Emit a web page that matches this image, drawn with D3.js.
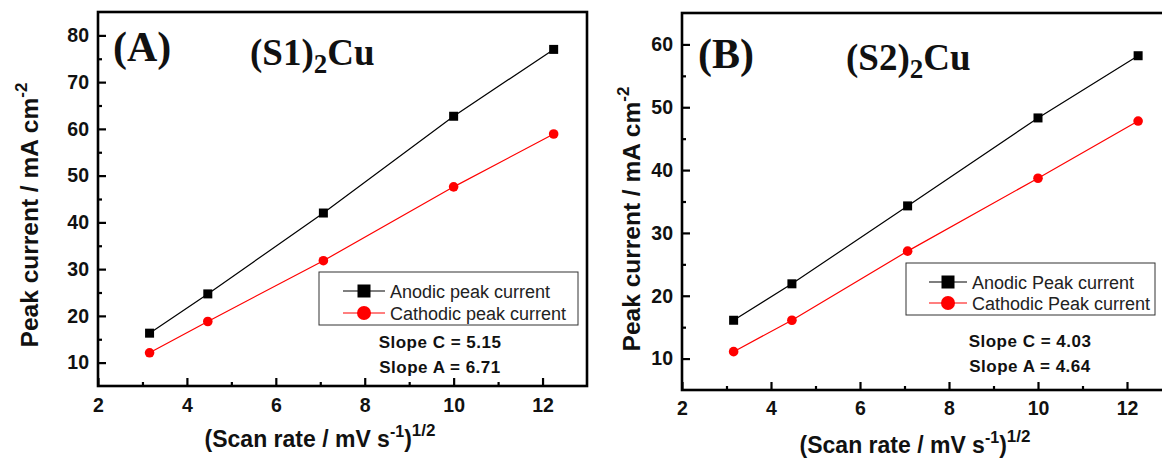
<!DOCTYPE html>
<html>
<head>
<meta charset="utf-8">
<script src="https://cdn.jsdelivr.net/npm/d3@7"></script>
<style>
  html, body { margin: 0; padding: 0; background: #fff; }
  svg { display: block; }
  .tick text { font-family: "Liberation Sans", Arial, sans-serif; font-weight: bold; font-size: 19.5px; fill: #111; }
</style>
</head>
<body>
<svg id="chart" width="1162" height="460"></svg>
<script>
// Square-root of scan rate (mV/s)^1/2 for 10, 20, 50, 100, 150 mV/s
const scanRoot = [3.16, 4.47, 7.07, 10.0, 12.25];

// Panel A: (S1)2Cu peak currents, mA cm^-2
const anodicA   = [16.3, 24.7, 42.0, 62.7, 77.0];
const cathodicA = [12.1, 18.8, 31.8, 47.6, 58.9];

// Panel B: (S2)2Cu peak currents, mA cm^-2
const anodicB   = [16.1, 21.9, 34.3, 48.3, 58.2];
const cathodicB = [11.1, 16.1, 27.1, 38.7, 47.8];

const xTicks      = [2, 4, 6, 8, 10, 12];
const xMinorTicks = [3, 5, 7, 9, 11];
const yTicksA      = [10, 20, 30, 40, 50, 60, 70, 80];
const yMinorTicksA = [15, 25, 35, 45, 55, 65, 75];
const yTicksB      = [10, 20, 30, 40, 50, 60];
const yMinorTicksB = [15, 25, 35, 45, 55];

const legendA = ["Anodic peak current", "Cathodic peak current"];
const legendB = ["Anodic Peak current", "Cathodic Peak current"];
const slopesA = ["Slope C = 5.15", "Slope A = 6.71"];
const slopesB = ["Slope C = 4.03", "Slope A = 4.64"];

const svg = d3.select("#chart");
const SANS = '"Liberation Sans", Arial, sans-serif';
const SERIF = '"Liberation Serif", "Times New Roman", serif';
const RED = "#ff0000";

function drawPanel(cfg) {
  const g = svg.append("g");
  const x = d3.scaleLinear().domain([2, 13]).range([cfg.left, cfg.right]);
  const y = d3.scaleLinear().domain(cfg.yDomain).range([cfg.bottom, cfg.top]);

  // major / minor ticks pointing into the plot
  const axB = g.append("g").attr("transform", `translate(0,${cfg.bottom})`)
    .call(d3.axisBottom(x).tickValues(xTicks).tickSize(-8).tickPadding(cfg.xPad).tickFormat(d3.format("d")));
  g.append("g").attr("transform", `translate(0,${cfg.bottom})`)
    .call(d3.axisBottom(x).tickValues(xMinorTicks).tickSize(-4).tickFormat(""));
  const axL = g.append("g").attr("transform", `translate(${cfg.left},0)`)
    .call(d3.axisLeft(y).tickValues(cfg.yTicks).tickSize(-8).tickPadding(9).tickFormat(d3.format("d")));
  g.append("g").attr("transform", `translate(${cfg.left},0)`)
    .call(d3.axisLeft(y).tickValues(cfg.yMinor).tickSize(-4).tickFormat(""));
  g.selectAll(".domain").remove();
  g.selectAll(".tick line").attr("stroke", "#000").attr("stroke-width", 2.2);
  axB.selectAll(".tick text").attr("fill", "#111");
  axL.selectAll(".tick text").attr("fill", "#111");

  // plot frame
  g.append("rect")
    .attr("x", cfg.left).attr("y", cfg.top)
    .attr("width", cfg.right - cfg.left).attr("height", cfg.bottom - cfg.top)
    .attr("fill", "none").attr("stroke", "#000").attr("stroke-width", 2.6);

  const line = d3.line().x((d, i) => x(scanRoot[i])).y(d => y(d));

  // anodic series (black squares)
  g.append("path").datum(cfg.anodic).attr("d", line)
    .attr("fill", "none").attr("stroke", "#000").attr("stroke-width", 1.2);
  g.selectAll(".sq").data(cfg.anodic).enter().append("rect")
    .attr("x", (d, i) => x(scanRoot[i]) - 4.5).attr("y", d => y(d) - 4.5)
    .attr("width", 9).attr("height", 9).attr("fill", "#000");

  // cathodic series (red circles)
  g.append("path").datum(cfg.cathodic).attr("d", line)
    .attr("fill", "none").attr("stroke", RED).attr("stroke-width", 1.2);
  g.selectAll(".ci").data(cfg.cathodic).enter().append("circle")
    .attr("cx", (d, i) => x(scanRoot[i])).attr("cy", d => y(d))
    .attr("r", 4.8).attr("fill", RED);

  // legend box
  const L = cfg.legend;
  g.append("rect").attr("x", L.x).attr("y", L.y).attr("width", L.w).attr("height", L.h)
    .attr("fill", "#fff").attr("stroke", "#333").attr("stroke-width", 1);
  const rows = [
    { label: cfg.legendLabels[0], color: "#000", shape: "square" },
    { label: cfg.legendLabels[1], color: RED, shape: "circle" }
  ];
  rows.forEach((r, i) => {
    const cy = L.y + L.row0 + i * L.rowGap;
    g.append("line").attr("x1", L.lineX).attr("x2", L.lineX + L.lineW)
      .attr("y1", cy).attr("y2", cy).attr("stroke", r.color).attr("stroke-width", 1.2);
    const mx = L.lineX + L.lineW / 2;
    if (r.shape === "square") {
      g.append("rect").attr("x", mx - 6.5).attr("y", cy - 6.5).attr("width", 13).attr("height", 13).attr("fill", r.color);
    } else {
      g.append("circle").attr("cx", mx).attr("cy", cy).attr("r", 7).attr("fill", r.color);
    }
    g.append("text").attr("x", L.lineX + L.lineW + 5).attr("y", cy + 6.5)
      .attr("font-family", SANS).attr("font-size", 18).attr("fill", "#222")
      .text(r.label);
  });

  // slope annotations
  cfg.slopes.forEach((s, i) => {
    g.append("text").attr("x", cfg.slopeX).attr("y", cfg.slopeY + i * 25)
      .attr("text-anchor", "middle").attr("font-family", SANS).attr("font-weight", "bold")
      .attr("font-size", 17).attr("letter-spacing", 0.5).attr("fill", "#111").text(s);
  });

  // panel letter and compound name
  g.append("text").attr("x", cfg.letterX).attr("y", cfg.letterY)
    .attr("font-family", SERIF).attr("font-weight", "bold").attr("font-size", 42).attr("fill", "#111")
    .text(cfg.letter);
  const nm = g.append("text").attr("x", cfg.nameX).attr("y", cfg.nameY)
    .attr("font-family", SERIF).attr("font-weight", "bold").attr("font-size", 37).attr("fill", "#111");
  nm.append("tspan").text(cfg.namePre);
  nm.append("tspan").attr("font-size", 27).attr("dy", 8).text("2");
  nm.append("tspan").attr("dy", -8).text("Cu");

  // y-axis title
  const yt = g.append("text")
    .attr("transform", `translate(${cfg.yTitleX},${cfg.yTitleY}) rotate(-90)`)
    .attr("text-anchor", "middle").attr("font-family", SANS).attr("font-weight", "bold")
    .attr("font-size", 24.5).attr("fill", "#111");
  yt.append("tspan").text("Peak current / mA cm");
  yt.append("tspan").attr("font-size", 17).attr("dy", -11).text("-2");

  // x-axis title
  const xt = g.append("text").attr("x", cfg.xTitleX).attr("y", cfg.xTitleY)
    .attr("text-anchor", "middle").attr("font-family", SANS).attr("font-weight", "bold")
    .attr("font-size", 23).attr("fill", "#111");
  xt.append("tspan").text("(Scan rate / mV s");
  xt.append("tspan").attr("font-size", 16).attr("dy", -10).text("-1");
  xt.append("tspan").attr("dy", 10).text(")");
  xt.append("tspan").attr("font-size", 17).attr("dy", -11).text("1/2");
}

drawPanel({
  left: 98, right: 587, top: 12, bottom: 386, yDomain: [5, 85],
  yTicks: yTicksA, yMinor: yMinorTicksA, xPad: 12,
  anodic: anodicA, cathodic: cathodicA,
  legend: { x: 319, y: 272, w: 259, h: 53, row0: 19, rowGap: 22, lineX: 343, lineW: 42 },
  legendLabels: legendA, slopes: slopesA, slopeX: 440, slopeY: 348,
  letter: "(A)", letterX: 113, letterY: 61,
  namePre: "(S1)", nameX: 250, nameY: 65,
  yTitleX: 38, yTitleY: 215, xTitleX: 320, xTitleY: 447
});

drawPanel({
  left: 682, right: 1171.5, top: 13, bottom: 390, yDomain: [5, 65],
  yTicks: yTicksB, yMinor: yMinorTicksB, xPad: 11,
  anodic: anodicB, cathodic: cathodicB,
  legend: { x: 906, y: 263, w: 249, h: 52, row0: 19, rowGap: 21, lineX: 929, lineW: 38 },
  legendLabels: legendB, slopes: slopesB, slopeX: 1030, slopeY: 347,
  letter: "(B)", letterX: 698, letterY: 68,
  namePre: "(S2)", nameX: 846, nameY: 70,
  yTitleX: 640, yTitleY: 219, xTitleX: 915, xTitleY: 453
});
</script>
</body>
</html>
